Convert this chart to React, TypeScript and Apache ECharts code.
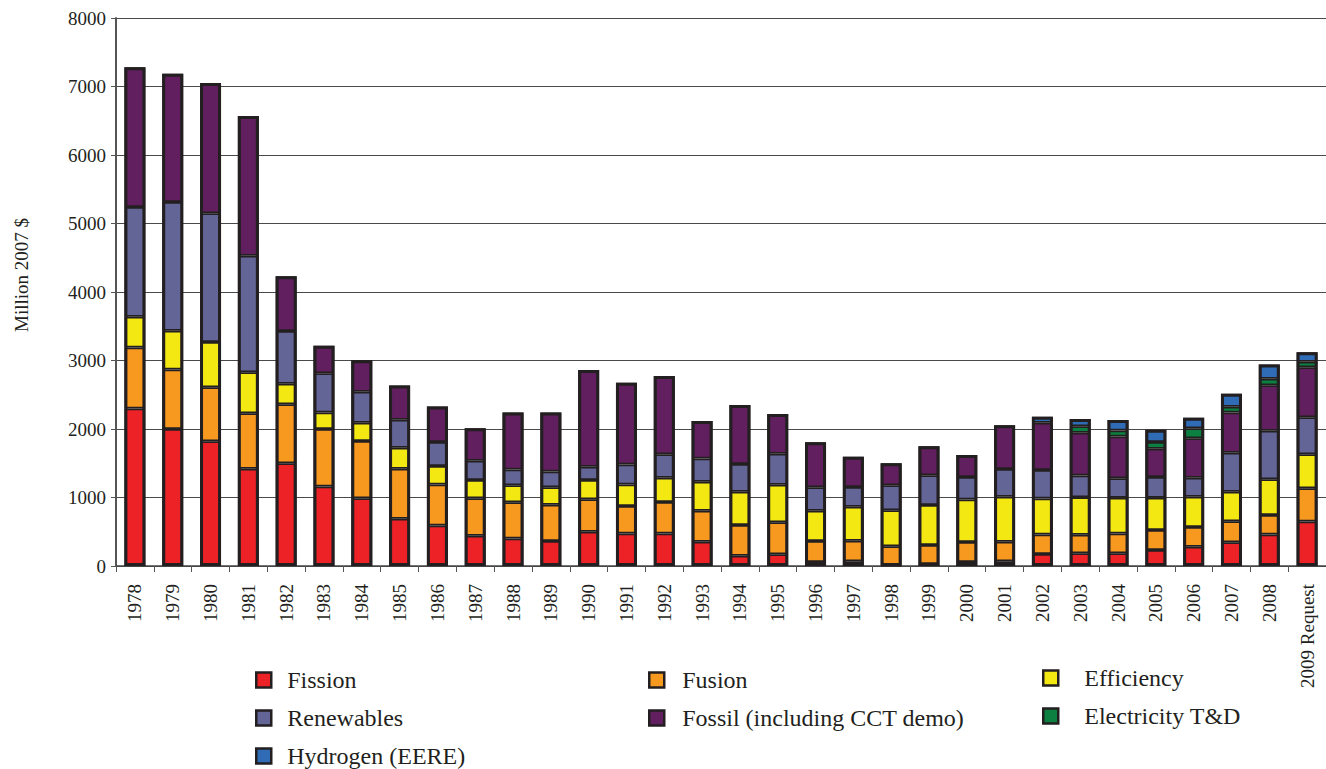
import React, { useEffect, useRef } from "react";
import * as echarts from "echarts";

const years = [
  "1978", "1979", "1980", "1981", "1982", "1983", "1984", "1985", "1986", "1987",
  "1988", "1989", "1990", "1991", "1992", "1993", "1994", "1995", "1996", "1997",
  "1998", "1999", "2000", "2001", "2002", "2003", "2004", "2005", "2006", "2007",
  "2008", "2009 Request",
];

const fission = [2300, 2000, 1820, 1420, 1500, 1160, 990, 690, 590, 440, 400, 365, 500, 475, 475, 355, 150, 170, 60, 70, 10, 30, 60, 70, 175, 185, 185, 235, 280, 345, 460, 650];
const fusion = [890, 870, 790, 810, 860, 840, 835, 730, 600, 550, 530, 530, 475, 400, 460, 450, 450, 470, 305, 300, 280, 275, 290, 285, 285, 270, 290, 290, 290, 310, 285, 485];
const efficiency = [450, 565, 660, 600, 300, 240, 265, 305, 270, 265, 250, 255, 280, 315, 355, 425, 485, 545, 440, 495, 525, 585, 620, 655, 525, 550, 520, 470, 440, 430, 520, 495];
const renewables = [1600, 1880, 1880, 1700, 770, 575, 455, 410, 350, 280, 230, 230, 195, 290, 340, 340, 405, 455, 345, 290, 365, 435, 330, 405, 415, 315, 285, 305, 280, 570, 710, 540];
const fossil = [2040, 1870, 1900, 2040, 800, 400, 460, 500, 520, 475, 830, 860, 1410, 1195, 1145, 545, 860, 580, 655, 440, 320, 425, 320, 640, 690, 625, 610, 410, 575, 585, 665, 730];
const electricity = [null, null, null, null, null, null, null, null, null, null, null, null, null, null, null, null, null, null, null, null, null, null, null, null, null, 95, 88, 100, 145, 83, 93, 82];
const hydrogen = [null, null, null, null, null, null, null, null, null, null, null, null, null, null, null, null, null, null, null, null, null, null, null, null, 90, 106, 155, 180, 155, 190, 210, 137];

const seriesNames = [
  "Fission",
  "Fusion",
  "Efficiency",
  "Renewables",
  "Fossil (including CCT demo)",
  "Electricity T&D",
  "Hydrogen (EERE)",
];
const seriesData = [fission, fusion, efficiency, renewables, fossil, electricity, hydrogen];
const seriesColors = ["#ec2227", "#f7981f", "#f4e812", "#636597", "#621f5f", "#0b8040", "#2f6cb5"];

const FONT = "Liberation Serif";
const INK = "#231f20";
const BAR_W = 21;

export default function App() {
  const ref = useRef<HTMLDivElement | null>(null);

  useEffect(() => {
    if (!ref.current) return;
    const chart = echarts.init(ref.current, undefined, { renderer: "svg" });

    const totals = years.map((_, i) =>
      seriesData.reduce((s, arr) => s + (arr[i] == null ? 0 : (arr[i] as number)), 0)
    );

    const legendBase = {
      orient: "vertical" as const,
      icon: "rect",
      padding: 0,
      itemWidth: 15,
      itemHeight: 15,
      itemGap: 14,
      itemStyle: { borderColor: INK, borderWidth: 2.5 },
      selectedMode: false,
    };
    const legendText = (pad: number) => ({
      fontFamily: FONT,
      fontSize: 24,
      lineHeight: 24,
      color: INK,
      padding: [0, 0, 0, pad],
    });

    const stackSeries = seriesNames.map((name, i) => ({
      name,
      type: "bar",
      stack: "total",
      barWidth: BAR_W,
      data: seriesData[i],
      itemStyle: { color: seriesColors[i], borderColor: INK, borderWidth: 1.75 },
      emphasis: { disabled: true },
      z: 2,
    }));

    chart.setOption({
      animation: false,
      backgroundColor: "#ffffff",
      grid: { left: 116, right: -4, top: 18, bottom: 203, containLabel: false },
      legend: [
        {
          ...legendBase,
          left: 255,
          top: 668,
          data: ["Fission", "Renewables", "Hydrogen (EERE)"],
          textStyle: legendText(11),
        },
        {
          ...legendBase,
          left: 648,
          top: 668,
          data: ["Fusion", "Fossil (including CCT demo)"],
          textStyle: legendText(13),
        },
        {
          ...legendBase,
          left: 1042,
          top: 666,
          data: ["Efficiency", "Electricity T&D"],
          textStyle: legendText(21),
        },
      ],
      xAxis: {
        type: "category",
        data: years,
        boundaryGap: true,
        axisLine: { show: true, lineStyle: { color: "#444", width: 1.5 } },
        axisTick: { show: true, length: 6, lineStyle: { color: "#555", width: 1 } },
        axisLabel: {
          rotate: 90,
          interval: 0,
          margin: 18,
          fontFamily: FONT,
          fontSize: 19,
          color: INK,
        },
      },
      yAxis: {
        type: "value",
        min: 0,
        max: 8000,
        interval: 1000,
        axisLine: { show: true, lineStyle: { color: "#555", width: 2 } },
        axisTick: { show: true, length: 5, lineStyle: { color: "#555", width: 1 } },
        axisLabel: {
          margin: 10,
          fontFamily: FONT,
          fontSize: 19,
          color: INK,
          formatter: (v: number) => String(v),
        },
        splitLine: { show: true, lineStyle: { color: "#4a4a4a", width: 1 } },
      },
      graphic: [
        {
          type: "text",
          x: 21,
          y: 275,
          rotation: Math.PI / 2,
          style: {
            text: "Million 2007 $",
            fontFamily: FONT,
            fontSize: 19,
            fill: INK,
            textAlign: "center",
            textVerticalAlign: "middle",
          },
        },
      ],
      series: [
        ...stackSeries,
        {
          name: "outline",
          type: "bar",
          stack: "outline",
          barWidth: BAR_W,
          barGap: "-100%",
          data: totals,
          silent: true,
          itemStyle: { color: "rgba(0,0,0,0)", borderColor: INK, borderWidth: 3 },
          emphasis: { disabled: true },
          z: 3,
        },
      ],
    });

    return () => {
      chart.dispose();
    };
  }, []);

  return (
    <div
      ref={ref}
      style={{ position: "absolute", left: 0, top: 0, width: 1326, height: 769 }}
    />
  );
}
